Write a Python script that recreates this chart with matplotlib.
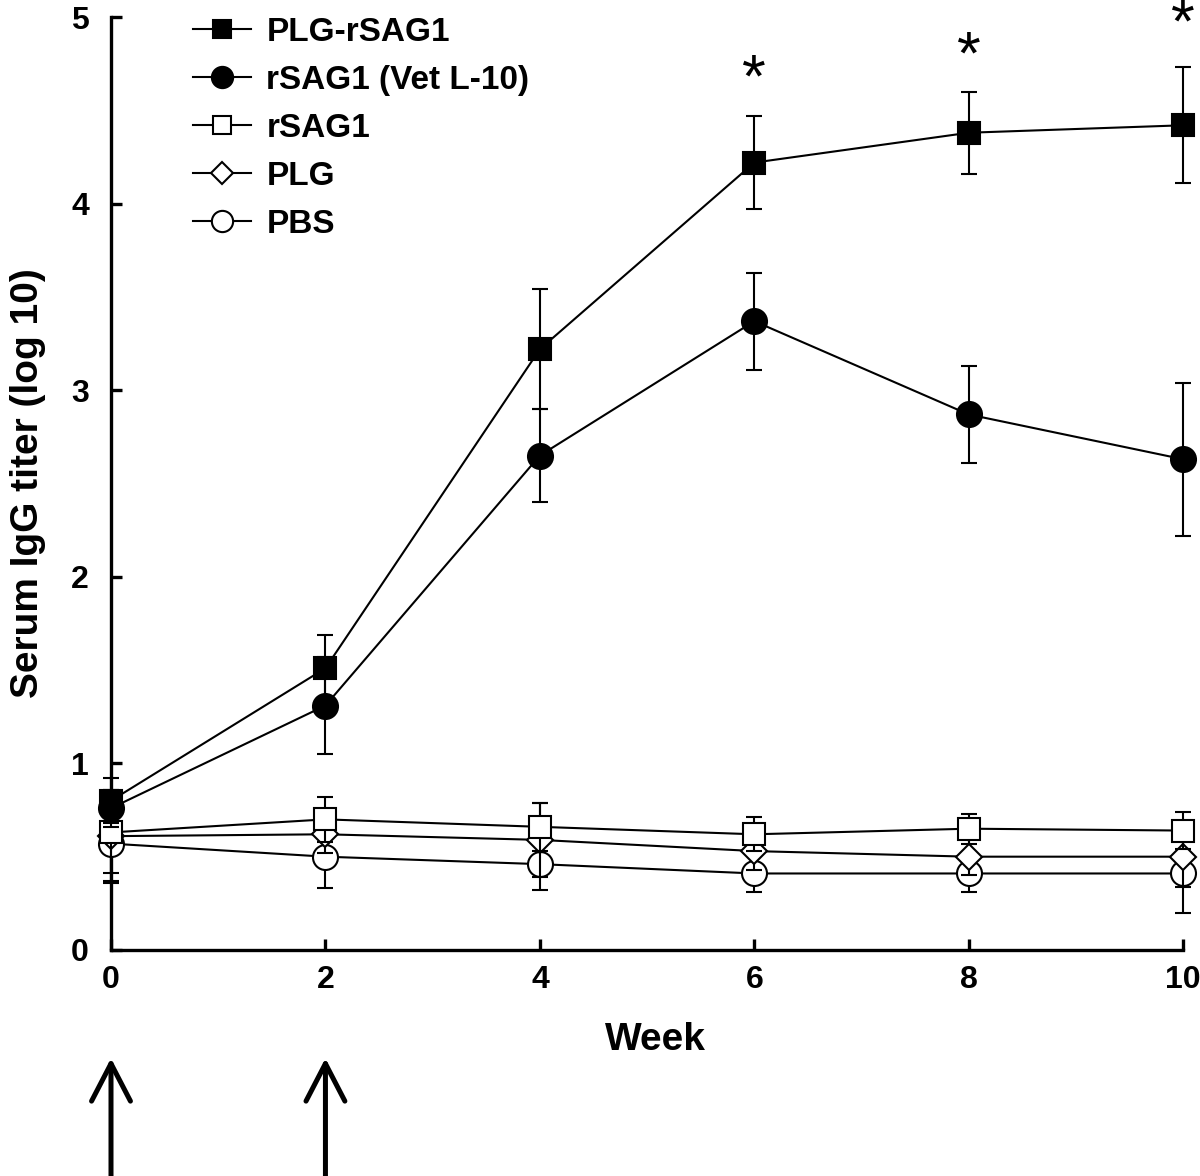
import matplotlib.pyplot as plt
from matplotlib.lines import Line2D
import numpy as np

plt.rcParams['font.family'] = ['Liberation Sans', 'DejaVu Sans']
plt.rcParams['font.weight'] = 'bold'

# Data
weeks = [0, 2, 4, 6, 8, 10]
series_names = ['PLG-rSAG1', 'rSAG1 (Vet L-10)', 'rSAG1', 'PLG', 'PBS']
plg_rsag1 = [0.80, 1.51, 3.22, 4.22, 4.38, 4.42]
plg_rsag1_err = [0.12, 0.18, 0.32, 0.25, 0.22, 0.31]
rsag1_vet = [0.76, 1.31, 2.65, 3.37, 2.87, 2.63]
rsag1_vet_err = [0.10, 0.26, 0.25, 0.26, 0.26, 0.41]
rsag1 = [0.63, 0.70, 0.66, 0.62, 0.65, 0.64]
rsag1_err = [0.22, 0.12, 0.13, 0.09, 0.08, 0.10]
plg = [0.61, 0.62, 0.59, 0.53, 0.50, 0.50]
plg_err = [0.25, 0.10, 0.20, 0.10, 0.10, 0.16]
pbs = [0.57, 0.50, 0.46, 0.41, 0.41, 0.41]
pbs_err = [0.20, 0.17, 0.14, 0.10, 0.10, 0.21]
star_weeks = [6, 8, 10]
star_heights = [4.66, 4.78, 4.95]
arrow_weeks = [0, 2]

fig = plt.figure(figsize=(12, 11.76), dpi=100)
ax = fig.add_axes([0.0925, 0.1922, 0.8935, 0.7933])

styles = [
    dict(marker='s', mfc='black', ms=16),
    dict(marker='o', mfc='black', ms=18),
    dict(marker='s', mfc='white', ms=16),
    dict(marker='D', mfc='white', ms=13),
    dict(marker='o', mfc='white', ms=18),
]
values = [plg_rsag1, rsag1_vet, rsag1, plg, pbs]
errors = [plg_rsag1_err, rsag1_vet_err, rsag1_err, plg_err, pbs_err]

# draw bottom series first so filled markers sit on top
for i in reversed(range(len(values))):
    st = styles[i]
    cont = ax.errorbar(weeks, values[i], yerr=errors[i], color='black', lw=1.5,
                       elinewidth=1.5, capsize=5.5, capthick=1.5,
                       marker=st['marker'], markersize=st['ms'],
                       markerfacecolor=st['mfc'], markeredgecolor='black',
                       markeredgewidth=1.5, zorder=3 + (4 - i))
    for art in cont.get_children():
        art.set_clip_on(False)

handles = [Line2D([], [], color='black', lw=1.5, marker=st['marker'],
                  markersize=st['ms'] * 0.85, markerfacecolor=st['mfc'],
                  markeredgecolor='black', markeredgewidth=1.5)
           for st in styles]
ax.legend(handles, series_names, loc='upper left',
          bbox_to_anchor=(0.0765, 1.0), frameon=False, fontsize=24,
          handlelength=1.75, labelspacing=0.51, handletextpad=0.45,
          borderaxespad=0, borderpad=0)

for wk, h in zip(star_weeks, star_heights):
    ax.text(wk, h, '*', ha='center', va='center', fontsize=44,
            fontweight='normal', clip_on=False)

ax.set_xlim(0, 10)
ax.set_ylim(0, 5)
ax.set_xticks(weeks)
ax.set_yticks(range(6))
ax.spines['top'].set_visible(False)
ax.spines['right'].set_visible(False)
ax.spines['left'].set_linewidth(2.4)
ax.spines['bottom'].set_linewidth(2.4)
ax.tick_params(direction='in', length=8, width=2.4, labelsize=23)
ax.tick_params(axis='x', pad=11)
ax.tick_params(axis='y', pad=16)
ax.set_xlabel('Week', fontsize=28, fontweight='bold', labelpad=14)
ax.set_ylabel('Serum IgG titer (log 10)', fontsize=28, fontweight='bold', labelpad=18)
ax.xaxis.set_label_coords(0.508, -0.077)

# immunization arrows below the axis
for wk in arrow_weeks:
    ax.annotate('', xy=(wk, -0.58), xytext=(wk, -1.25), xycoords='data',
                annotation_clip=False,
                arrowprops=dict(arrowstyle='->,head_length=2.7,head_width=1.4',
                                lw=3.6, color='black', shrinkA=0, shrinkB=0))

fig.savefig('out.png', dpi=100)
